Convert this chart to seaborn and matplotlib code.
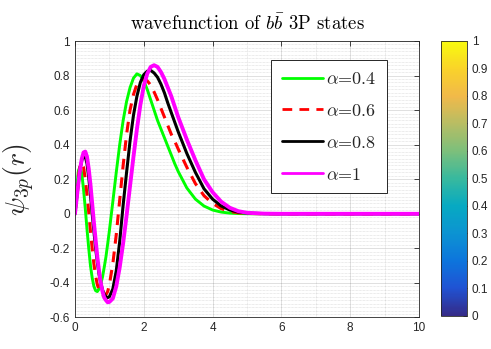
import numpy as np
import pandas as pd
import matplotlib
matplotlib.use("Agg")
import matplotlib.pyplot as plt
import seaborn as sns
from matplotlib.colors import LinearSegmentedColormap, Normalize
from matplotlib.cm import ScalarMappable
from matplotlib.ticker import MultipleLocator, FixedLocator, FuncFormatter

# ---------------- data ----------------
r = [0, 0.05, 0.1, 0.15, 0.2, 0.25, 0.3, 0.35, 0.4, 0.45, 0.5, 0.55, 0.6, 0.65, 0.7,
     0.75, 0.8, 0.85, 0.9, 0.95, 1.0,
     1.1, 1.2, 1.3, 1.4, 1.5, 1.6, 1.7, 1.8, 1.9, 2.0, 2.1, 2.2, 2.3, 2.4, 2.5, 2.6,
     2.7, 2.8, 2.9, 3.0,
     3.25, 3.5, 3.75, 4.0, 4.25, 4.5, 4.75, 5.0,
     5.5, 6, 7, 8, 9, 10]

psi_a04 = [0, 0.15, 0.25, 0.275, 0.23, 0.14, 0.03, -0.09, -0.2, -0.3, -0.37, -0.42,
           -0.445, -0.45, -0.435, -0.405, -0.366, -0.31, -0.249, -0.175, -0.098,
           0.07, 0.24, 0.4, 0.54, 0.65, 0.73, 0.785, 0.81, 0.80, 0.77, 0.72, 0.66,
           0.6, 0.54, 0.49, 0.44, 0.39, 0.34, 0.29, 0.245,
           0.15, 0.085, 0.045, 0.022, 0.01, 0.004, 0.0015, 0.0005,
           0, 0, 0, 0, 0, 0]

psi_a06 = [0, 0.12, 0.22, 0.28, 0.295, 0.27, 0.2, 0.11, 0.01, -0.1, -0.2, -0.29,
           -0.36, -0.41, -0.44, -0.46, -0.47, -0.472, -0.468, -0.45, -0.41,
           -0.29, -0.12, 0.08, 0.28, 0.46, 0.6, 0.69, 0.75, 0.775, 0.78, 0.77, 0.745,
           0.705, 0.66, 0.61, 0.56, 0.51, 0.46, 0.42, 0.375,
           0.27, 0.175, 0.105, 0.06, 0.03, 0.014, 0.006, 0.002,
           0.0005, 0, 0, 0, 0, 0]

psi_a08 = [0, 0.09, 0.18, 0.26, 0.31, 0.335, 0.33, 0.29, 0.21, 0.11, 0.0, -0.1,
           -0.2, -0.28, -0.35, -0.40, -0.44, -0.465, -0.48, -0.485, -0.48,
           -0.435, -0.33, -0.16, 0.05, 0.24, 0.42, 0.57, 0.68, 0.76, 0.805, 0.825, 0.83,
           0.815, 0.79, 0.75, 0.70, 0.64, 0.585, 0.53, 0.475,
           0.35, 0.24, 0.145, 0.085, 0.045, 0.022, 0.01, 0.004,
           0.001, 0, 0, 0, 0, 0]

psi_a10 = [0, 0.09, 0.18, 0.26, 0.32, 0.355, 0.36, 0.33, 0.26, 0.17, 0.06, -0.05,
           -0.15, -0.25, -0.33, -0.40, -0.45, -0.485, -0.5, -0.512, -0.51,
           -0.49, -0.42, -0.31, -0.17, -0.01, 0.16, 0.33, 0.49, 0.63, 0.74, 0.81, 0.85,
           0.86, 0.85, 0.82, 0.78, 0.73, 0.68, 0.62, 0.56,
           0.43, 0.31, 0.2, 0.125, 0.07, 0.035, 0.015, 0.006,
           0.001, 0, 0, 0, 0, 0]

labels = [r"$\alpha$=0.4", r"$\alpha$=0.6", r"$\alpha$=0.8", r"$\alpha$=1"]
x_ticks = [0, 2, 4, 6, 8, 10]
y_ticks = [-0.6, -0.4, -0.2, 0, 0.2, 0.4, 0.6, 0.8, 1]
cbar_ticks = [0, 0.1, 0.2, 0.3, 0.4, 0.5, 0.6, 0.7, 0.8, 0.9, 1]
title_text = r"wavefunction of $b\bar{b}$ 3P states"
ylabel_text = r"$\psi_{3p}(r)$"

# ---------------- style ----------------
sns.set_theme(style="white")
plt.rcParams["font.family"] = ["Liberation Sans", "DejaVu Sans"]
plt.rcParams["mathtext.fontset"] = "cm"
plt.rcParams["axes.unicode_minus"] = False

parula = LinearSegmentedColormap.from_list("parula", [
    (0.2081, 0.1663, 0.5292), (0.1253, 0.3242, 0.8303), (0.0498, 0.4586, 0.8641),
    (0.0488, 0.5772, 0.8228), (0.0267, 0.6642, 0.7607), (0.2178, 0.7250, 0.6193),
    (0.4871, 0.7491, 0.4840), (0.7184, 0.7411, 0.3905), (0.9450, 0.7261, 0.2886),
    (0.9788, 0.8271, 0.1633), (0.9763, 0.9831, 0.0538)])

dark = "#262626"

fig = plt.figure(figsize=(4.91, 3.49), dpi=100)
fig.patch.set_facecolor("white")
ax = fig.add_axes([0.1527, 0.0903, 0.7007, 0.7922])
cax = fig.add_axes([0.898, 0.0946, 0.053, 0.788])

df = pd.DataFrame({"r": r, "a04": psi_a04, "a06": psi_a06, "a08": psi_a08, "a10": psi_a10})

sns.lineplot(data=df, x="r", y="a04", ax=ax, color=(0, 1, 0), lw=2.1,
             label=labels[0], sort=False, estimator=None)
sns.lineplot(data=df, x="r", y="a06", ax=ax, color=(1, 0, 0), lw=2.2,
             linestyle=(0, (3.5, 2.6)), label=labels[1], sort=False, estimator=None)
sns.lineplot(data=df, x="r", y="a08", ax=ax, color="black", lw=2.2,
             label=labels[2], sort=False, estimator=None)
sns.lineplot(data=df, x="r", y="a10", ax=ax, color=(1, 0, 1), lw=2.8,
             label=labels[3], sort=False, estimator=None)

ax.set_xlim(0, 10)
ax.set_ylim(-0.6, 1)
ax.xaxis.set_major_locator(FixedLocator(x_ticks))
ax.yaxis.set_major_locator(FixedLocator(y_ticks))
ax.xaxis.set_minor_locator(MultipleLocator(1))
ax.yaxis.set_minor_locator(MultipleLocator(0.02))
fmt = FuncFormatter(lambda v, p: "%g" % round(v, 3))
ax.xaxis.set_major_formatter(fmt)
ax.yaxis.set_major_formatter(fmt)
ax.set_axisbelow(True)
ax.grid(which="major", color=dark, alpha=0.17, lw=0.6)
ax.grid(which="minor", color=dark, alpha=0.18, lw=0.5, linestyle=(0, (1, 1)))
ax.tick_params(which="major", direction="in", length=3.5, width=0.6, colors=dark,
               labelsize=8.5, top=True, right=True, labelcolor=dark)
ax.tick_params(which="minor", length=0)
for s in ax.spines.values():
    s.set_color(dark)
    s.set_linewidth(0.6)
ax.set_xlabel("")
ax.set_ylabel(ylabel_text, fontsize=20, color=dark)
ax.yaxis.set_label_coords(-0.11, 0.5)
ax.set_title(title_text, fontsize=13.5, family="cmr10", color="black", pad=9)

leg = ax.legend(loc="upper right", bbox_to_anchor=(0.907, 0.931), borderaxespad=0,
                prop={"family": "cmr10", "size": 13}, frameon=True, fancybox=False,
                handlelength=2.3, handletextpad=0.15, labelspacing=0.88,
                borderpad=0.6, framealpha=1)
leg.get_frame().set_edgecolor(dark)
leg.get_frame().set_linewidth(0.7)
for h in leg.get_lines():
    h.set_linewidth(2.0)

sm = ScalarMappable(norm=Normalize(0, 1), cmap=parula)
cb = fig.colorbar(sm, cax=cax, ticks=cbar_ticks)
cb.ax.yaxis.set_major_formatter(fmt)
cb.ax.tick_params(direction="in", length=3, width=0.6, colors=dark, labelsize=8.5)
cb.outline.set_edgecolor(dark)
cb.outline.set_linewidth(0.6)

fig.savefig("out.png", dpi=100, facecolor="white")
